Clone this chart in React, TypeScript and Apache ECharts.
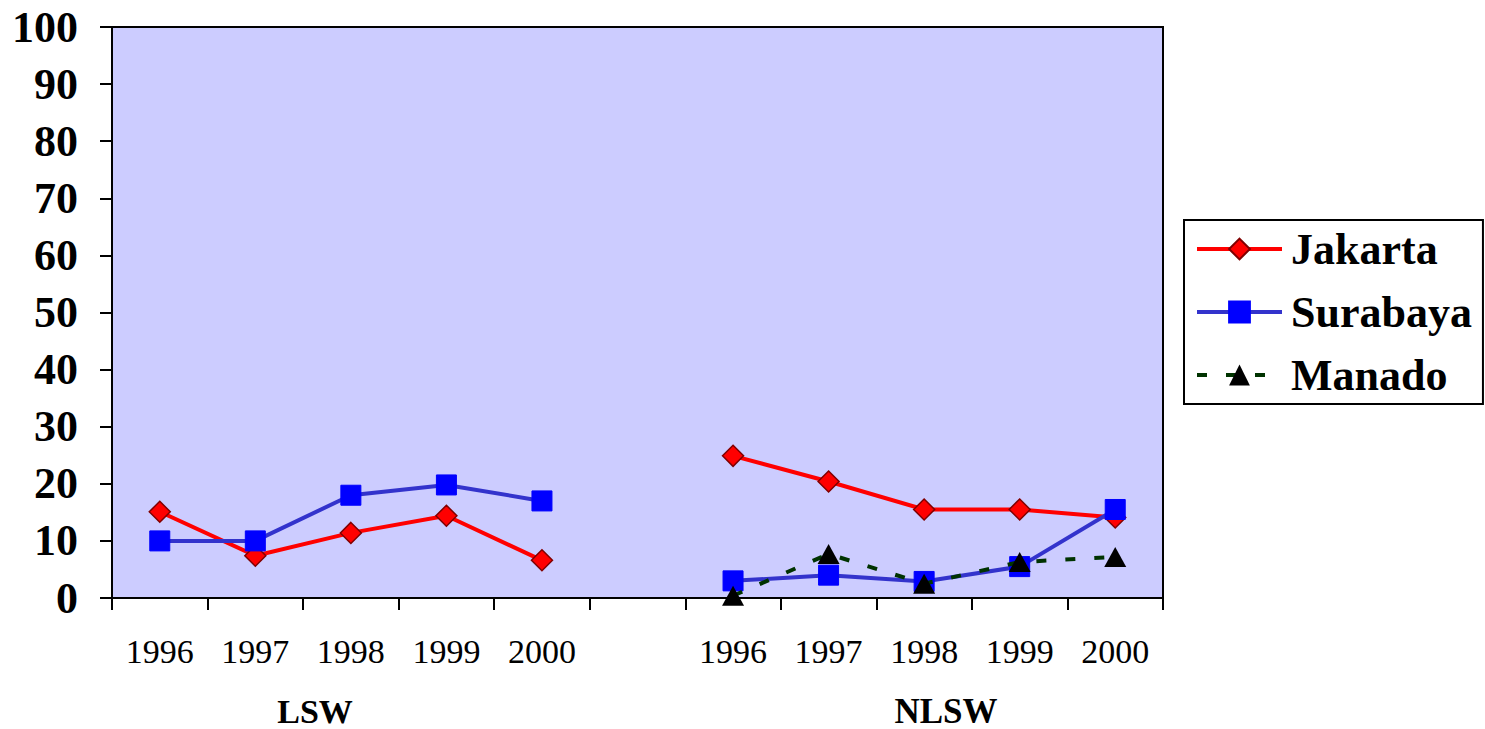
import React, { useEffect, useRef } from "react";
import * as echarts from "echarts";

const categories = ["1996", "1997", "1998", "1999", "2000", "", "1996", "1997", "1998", "1999", "2000"];
const groupLabels = ["LSW", "NLSW"];
const jakarta = [15.1, 7.4, 11.4, 14.4, 6.6, null, 24.9, 20.4, 15.5, 15.5, 14.1];
const surabaya = [10.0, 10.0, 18.0, 19.8, 17.0, null, 3.0, 4.0, 2.9, 5.5, 15.5];
const manado = [null, null, null, null, null, null, 0.4, 7.7, 2.5, 6.3, 7.2];
const yTicks = { min: 0, max: 100, interval: 10 };

const FONT = "'Liberation Serif', 'Times New Roman', serif";

export default function App() {
  const ref = useRef<HTMLDivElement>(null);
  useEffect(() => {
    document.body.style.margin = "0";
    const chart = echarts.init(ref.current!, null, { renderer: "svg" });
    const toData = (arr: (number | null)[]) => arr.map((v) => (v === null ? "-" : v));
    chart.setOption({
      animation: false,
      grid: {
        left: 112,
        right: 322,
        top: 27,
        bottom: 131,
        show: true,
        backgroundColor: "#CCCCFF",
        borderColor: "#000",
        borderWidth: 2,
      },
      legend: {
        orient: "vertical",
        left: 1184,
        top: 220,
        padding: [5, 11, 5, 11],
        borderColor: "#000",
        borderWidth: 2,
        itemWidth: 85,
        itemHeight: 26,
        itemGap: 15,
        lineStyle: { width: 4 },
        textStyle: {
          fontFamily: FONT,
          fontWeight: "bold",
          fontSize: 44,
          lineHeight: 48,
          color: "#000",
          padding: [0, 0, 0, 4],
        },
        data: ["Jakarta", "Surabaya", "Manado"],
      },
      xAxis: {
        type: "category",
        data: categories,
        boundaryGap: true,
        axisLine: { lineStyle: { color: "#000", width: 2 } },
        axisTick: { show: true, length: 12, lineStyle: { color: "#000", width: 2 }, interval: 0 },
        axisLabel: {
          interval: 0,
          margin: 36,
          fontFamily: FONT,
          fontSize: 34,
          color: "#000",
        },
        splitLine: { show: false },
      },
      yAxis: {
        type: "value",
        min: yTicks.min,
        max: yTicks.max,
        interval: yTicks.interval,
        axisLine: { show: true, lineStyle: { color: "#000", width: 2 } },
        axisTick: { show: true, length: 12, lineStyle: { color: "#000", width: 2 } },
        axisLabel: {
          margin: 34,
          fontFamily: FONT,
          fontWeight: "bold",
          fontSize: 44,
          color: "#000",
        },
        splitLine: { show: false },
      },
      graphic: [
        {
          type: "text",
          x: 315,
          y: 711,
          style: {
            text: groupLabels[0],
            font: `bold 34px ${FONT}`,
            fill: "#000",
            align: "center",
            verticalAlign: "middle",
          },
        },
        {
          type: "text",
          x: 946,
          y: 711,
          style: {
            text: groupLabels[1],
            font: `bold 35px ${FONT}`,
            fill: "#000",
            align: "center",
            verticalAlign: "middle",
          },
        },
      ],
      series: [
        {
          name: "Jakarta",
          type: "line",
          data: toData(jakarta),
          connectNulls: false,
          symbol: "diamond",
          symbolSize: 21,
          lineStyle: { color: "#FF0000", width: 4 },
          itemStyle: { color: "#FF0000", borderColor: "#800000", borderWidth: 1.5 },
          z: 3,
        },
        {
          name: "Surabaya",
          type: "line",
          data: toData(surabaya),
          connectNulls: false,
          symbol: "rect",
          symbolSize: 20,
          lineStyle: { color: "#3333CC", width: 4 },
          itemStyle: { color: "#0000FF", borderColor: "#0000FF", borderWidth: 1 },
          z: 4,
        },
        {
          name: "Manado",
          type: "line",
          data: toData(manado),
          connectNulls: false,
          symbol: "triangle",
          symbolSize: [22, 20],
          lineStyle: { color: "#003300", width: 4, type: [10, 19] },
          itemStyle: { color: "#000000", borderColor: "#000", borderWidth: 0 },
          z: 5,
        },
      ],
    });
    return () => chart.dispose();
  }, []);
  return <div ref={ref} style={{ width: 1485, height: 729 }} />;
}
